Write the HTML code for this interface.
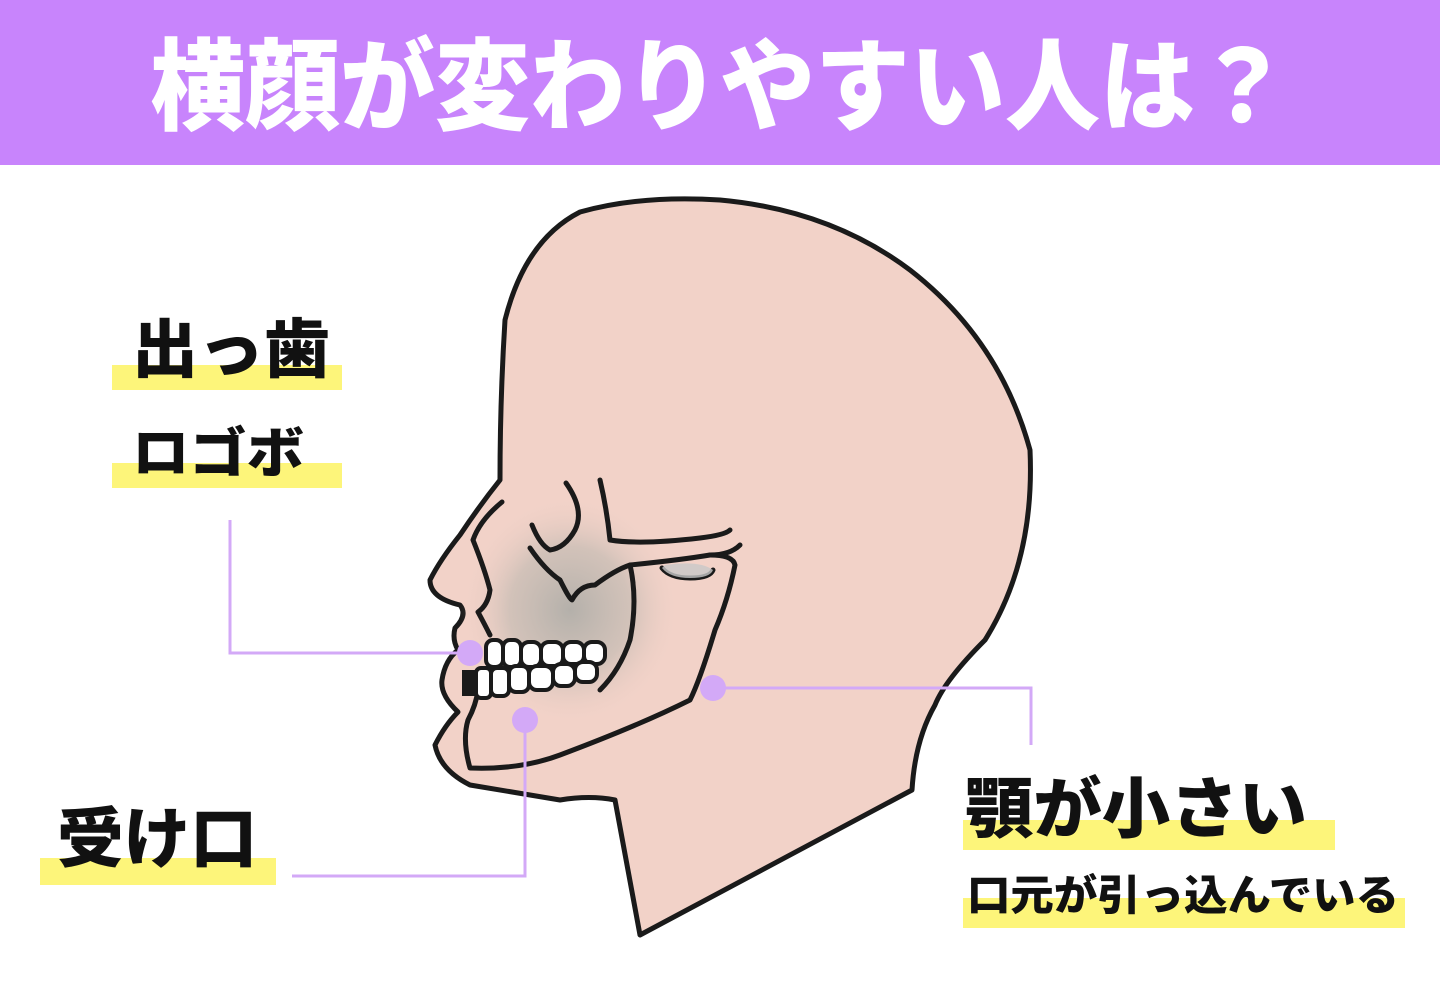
<!DOCTYPE html>
<html><head><meta charset="utf-8"><style>
html,body{margin:0;padding:0;background:#fff;}
svg{display:block}
text{font-family:"Liberation Sans","Noto Sans CJK JP",sans-serif;font-weight:900;}
</style></head><body>
<svg width="1440" height="990" viewBox="0 0 1440 990" xmlns="http://www.w3.org/2000/svg">
<defs>
<radialGradient id="g" cx="0.5" cy="0.5" r="0.5">
<stop offset="0" stop-color="#a9aaa5" stop-opacity="0.85"/>
<stop offset="0.55" stop-color="#b8b5ad" stop-opacity="0.55"/>
<stop offset="1" stop-color="#f2d2c8" stop-opacity="0"/>
</radialGradient>
</defs>
<rect x="0" y="0" width="1440" height="165" fill="#c884fc"/>
<text x="150" y="122" font-size="100" fill="#fff" textLength="1140" lengthAdjust="spacingAndGlyphs">横顔が変わりやすい人は？</text>

<!-- head -->
<path d="M640,935 L615,800 Q590,795 560,800 L470,785 Q440,770 435,745 Q445,725 458,712 Q440,695 442,680 Q445,660 458,650 Q452,640 455,628 Q468,615 460,605 Q430,598 430,580 Q440,560 460,535 Q480,505 500,480 Q500,400 505,320 Q525,240 580,212 Q640,195 720,200 Q830,210 910,270 Q1000,340 1030,450 Q1035,560 985,640 Q945,680 935,705 Q915,740 912,790 Z" fill="#f2d2c8" stroke="#1a1a1a" stroke-width="5" stroke-linejoin="round"/>
<ellipse cx="570" cy="610" rx="110" ry="115" fill="url(#g)"/>
<g fill="none" stroke="#1a1a1a" stroke-width="5" stroke-linecap="round" stroke-linejoin="round">
<path d="M502,502 Q480,520 473,540 Q485,570 490,590 Q488,605 478,612 Q485,625 490,635"/>
<path d="M566,483 Q585,510 575,530 Q565,548 550,550 Q540,545 532,525"/>
<path d="M600,480 Q607,510 610,540 Q640,545 700,538 Q725,535 730,530"/>
<path d="M530,548 Q545,570 560,580 Q570,600 572,600 Q580,585 595,585 Q615,570 630,565 Q680,560 710,555 Q730,555 740,545"/>
<path d="M630,565 Q638,600 630,640 Q620,670 600,690"/>
<path d="M710,555 Q733,555 735,565 Q728,600 715,630 Q700,680 690,700 Q640,725 560,755 Q520,770 470,768 Q462,740 468,720 Q476,705 478,690"/>
<path d="M662,568 Q670,578 690,578 Q710,578 713,570"/>
</g>
<path d="M662,568 Q670,578 690,578 Q710,578 713,570 Q700,560 665,565 Z" fill="#c8c8c8" opacity="0.8"/>
<!-- teeth -->
<g fill="#fff" stroke="#1a1a1a" stroke-width="4">
<rect x="486" y="640" width="17" height="27" rx="7"/>
<rect x="503" y="640" width="18" height="27" rx="7"/>
<rect x="521" y="642" width="20" height="25" rx="8"/>
<rect x="541" y="642" width="22" height="24" rx="8"/>
<rect x="563" y="642" width="21" height="22" rx="8"/>
<rect x="584" y="642" width="21" height="22" rx="8"/>
<rect x="476" y="668" width="15" height="30" rx="5"/>
<rect x="491" y="668" width="18" height="28" rx="6"/>
<rect x="509" y="666" width="20" height="26" rx="7"/>
<rect x="529" y="666" width="24" height="24" rx="8"/>
<rect x="553" y="664" width="22" height="22" rx="8"/>
<rect x="575" y="662" width="22" height="20" rx="8"/>
</g>
<rect x="462" y="670" width="13" height="26" fill="#1a1a1a"/>

<!-- connectors -->
<g fill="none" stroke="#d3a9f7" stroke-width="3">
<polyline points="230,520 230,653 470,653"/>
<polyline points="292,876 525,876 525,720"/>
<polyline points="713,688 1031,688 1031,745"/>
</g>
<g fill="#d3a9f7">
<circle cx="470" cy="653" r="13"/>
<circle cx="525" cy="720" r="13"/>
<circle cx="713" cy="688" r="13"/>
</g>

<!-- labels -->
<g fill="#fdf57a">
<rect x="112" y="365" width="230" height="25"/>
<rect x="112" y="463" width="230" height="25"/>
<rect x="40" y="858" width="236" height="27"/>
<rect x="963" y="820" width="372" height="30"/>
<rect x="963" y="898" width="442" height="30"/>
</g>
<g fill="#111">
<text x="132" y="372" font-size="64" textLength="198" lengthAdjust="spacingAndGlyphs">出っ歯</text>
<text x="132" y="472" font-size="54" textLength="172" lengthAdjust="spacingAndGlyphs">ロゴボ</text>
<text x="57" y="862" font-size="66" textLength="200" lengthAdjust="spacingAndGlyphs">受け口</text>
<text x="965" y="832" font-size="66" textLength="342" lengthAdjust="spacingAndGlyphs">顎が小さい</text>
<text x="967" y="910" font-size="42" textLength="432" lengthAdjust="spacingAndGlyphs">口元が引っ込んでいる</text>
</g>
</svg>
</body></html>
